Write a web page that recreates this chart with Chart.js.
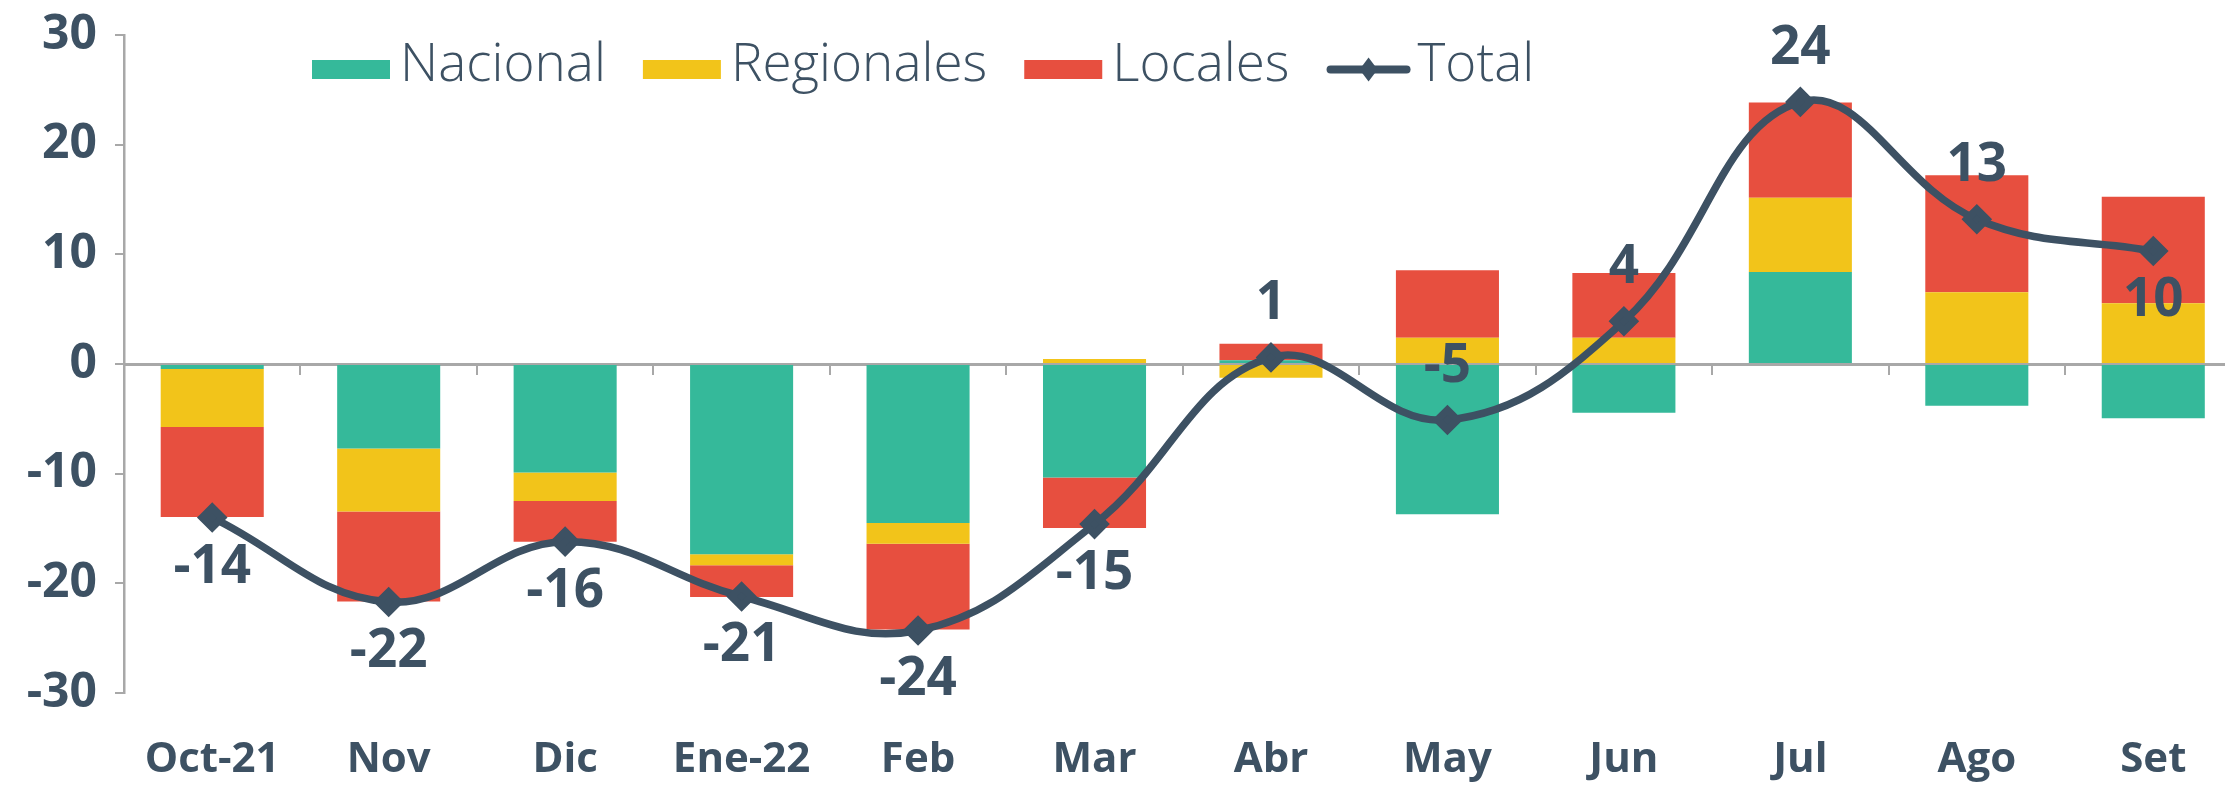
<!DOCTYPE html>
<html>
<head>
<meta charset="utf-8">
<script src="https://cdn.jsdelivr.net/npm/chart.js@4/dist/chart.umd.min.js"></script>
<style>
  html, body { margin: 0; padding: 0; background: #ffffff; overflow: hidden; }
  canvas { display: block; }
</style>
</head>
<body>
<canvas id="c" width="2250" height="802" style="width:2250px;height:802px"></canvas>
<script>
// ---- data ----
const categories = ['Oct-21', 'Nov', 'Dic', 'Ene-22', 'Feb', 'Mar', 'Abr', 'May', 'Jun', 'Jul', 'Ago', 'Set'];
const nacional   = [-0.45, -7.7, -9.9, -17.35, -14.5, -10.35, 0.35, -13.7, -4.45, 8.4, -3.8, -4.95];
const regionales = [-5.3, -5.75, -2.6, -1.0, -1.9, 0.45, -1.25, 2.4, 2.4, 6.75, 6.55, 5.55];
const locales    = [-8.2, -8.2, -3.7, -2.9, -7.8, -4.6, 1.5, 6.15, 5.9, 8.7, 10.65, 9.7];
const total      = [-14.0, -21.7, -16.2, -21.2, -24.3, -14.6, 0.6, -5.1, 3.9, 23.9, 13.2, 10.3];
const yTicks     = [-30, -20, -10, 0, 10, 20, 30];
const seriesNames = ['Nacional', 'Regionales', 'Locales', 'Total'];

// ---- styles ----
const TEAL = '#35b99a', YELLOW = '#f2c41a', RED = '#e74f3f', DARK = '#3d5163', GRAY = '#a8a8a8';
const FONT = '"Open Sans", "Noto Sans", sans-serif';
const PLOT_RIGHT = 2241.5;

const labelPlugin = {
  id: 'totLabels',
  afterDatasetsDraw(chart, args, opts) {
    const ctx = chart.ctx;
    const meta = chart.getDatasetMeta(3);
    ctx.save();
    ctx.font = 'bold 53px ' + FONT;
    ctx.fillStyle = DARK;
    ctx.textAlign = 'center';
    ctx.textBaseline = 'alphabetic';
    meta.data.forEach((pt, i) => {
      const dy = opts.placement[i] === 'above' ? -57 : 46;
      ctx.fillText(String(Math.round(total[i])), pt.x, pt.y + dy + 19);
    });
    ctx.restore();
  }
};

const legendPlugin = {
  id: 'customLegend',
  afterDraw(chart, args, opts) {
    const ctx = chart.ctx;
    ctx.save();
    ctx.font = '300 53px ' + FONT;
    ctx.textBaseline = 'alphabetic';
    ctx.textAlign = 'left';
    let x = opts.x;
    const yc = opts.y;
    const colors = [TEAL, YELLOW, RED];
    seriesNames.forEach((name, i) => {
      if (i < 3) {
        ctx.fillStyle = colors[i];
        ctx.fillRect(x, yc - 9.5, 78, 19);
        x += 78 + 10;
      } else {
        ctx.strokeStyle = DARK;
        ctx.lineWidth = 8;
        ctx.lineCap = 'round';
        ctx.beginPath();
        ctx.moveTo(x + 4, yc); ctx.lineTo(x + 80, yc);
        ctx.stroke();
        ctx.fillStyle = DARK;
        ctx.beginPath();
        const cx = x + 42;
        ctx.moveTo(cx, yc - 12); ctx.lineTo(cx + 9, yc); ctx.lineTo(cx, yc + 12); ctx.lineTo(cx - 9, yc);
        ctx.closePath(); ctx.fill();
        x += 84 + 7;
      }
      ctx.fillStyle = DARK;
      ctx.fillText(name, x, yc + 11);
      x += ctx.measureText(name).width + 37;
    });
    ctx.restore();
  }
};

function buildConfig() {
  return {
    type: 'bar',
    data: {
      labels: categories,
      datasets: [
        { label: seriesNames[0], data: nacional, backgroundColor: TEAL, order: 1, stack: 'bars' },
        { label: seriesNames[1], data: regionales, backgroundColor: YELLOW, order: 1, stack: 'bars' },
        { label: seriesNames[2], data: locales, backgroundColor: RED, order: 1, stack: 'bars' },
        { label: seriesNames[3], data: total, type: 'line', stack: 'total', order: 0,
          borderColor: DARK, backgroundColor: DARK, borderWidth: 7.5, tension: 0.4,
          pointStyle: 'rectRot', pointRadius: 10, pointHoverRadius: 10, fill: false }
      ]
    },
    options: {
      responsive: false,
      maintainAspectRatio: false,
      animation: false,
      devicePixelRatio: 1,
      layout: { padding: { left: 0, top: 35, right: 8, bottom: 0 } },
      datasets: { bar: { barPercentage: 0.584, categoryPercentage: 1.0 } },
      plugins: {
        legend: { display: false },
        tooltip: { enabled: false },
        totLabels: { placement: ['below','below','below','below','below','below','above','above','above','above','above','below'] },
        customLegend: { x: 312, y: 69.5 }
      },
      scales: {
        x: {
          stacked: true,
          offset: true,
          grid: { display: false, drawTicks: false },
          border: { display: false },
          ticks: { color: DARK, font: { family: FONT, size: 42, weight: 'bold' }, padding: 42, maxRotation: 0, autoSkip: false },
          afterFit(s) { s.height = 109; s.paddingLeft = 0; s.paddingRight = 0; }
        },
        x2: {
          type: 'category',
          labels: categories,
          position: { y: 0 },
          offset: true,
          grid: { offset: true, drawOnChartArea: false, drawTicks: true, tickLength: 9, color: GRAY, lineWidth: 2 },
          border: { display: true, color: GRAY, width: 3 },
          ticks: { display: false },
          afterFit(s) { s.paddingLeft = 0; s.paddingRight = 0; s.paddingTop = 0; s.paddingBottom = 0; }
        },
        y: {
          stacked: true,
          min: -30, max: 30,
          afterBuildTicks(s) { s.ticks = yTicks.map(v => ({ value: v })); },
          grid: { drawOnChartArea: false, drawTicks: true, tickLength: 9, color: GRAY, lineWidth: 2 },
          border: { display: true, color: GRAY, width: 2.5 },
          ticks: { color: DARK, font: { family: FONT, size: 48, weight: 'bold' }, padding: 18 },
          afterFit(s) { s.width = 124; s.paddingTop = 0; s.paddingBottom = 0; }
        }
      }
    },
    plugins: [labelPlugin, legendPlugin]
  };
}

const canvas = document.getElementById('c');
function build(w) {
  canvas.width = Math.round(w);
  canvas.height = 802;
  canvas.style.width = Math.round(w) + 'px';
  canvas.style.height = '802px';
  return new Chart(canvas, buildConfig());
}
let chart = build(2250);
const diff = PLOT_RIGHT - chart.chartArea.right;
if (Math.abs(diff) > 0.75) {
  const w = chart.width + diff;
  chart.destroy();
  chart = build(w);
}
</script>
</body>
</html>
